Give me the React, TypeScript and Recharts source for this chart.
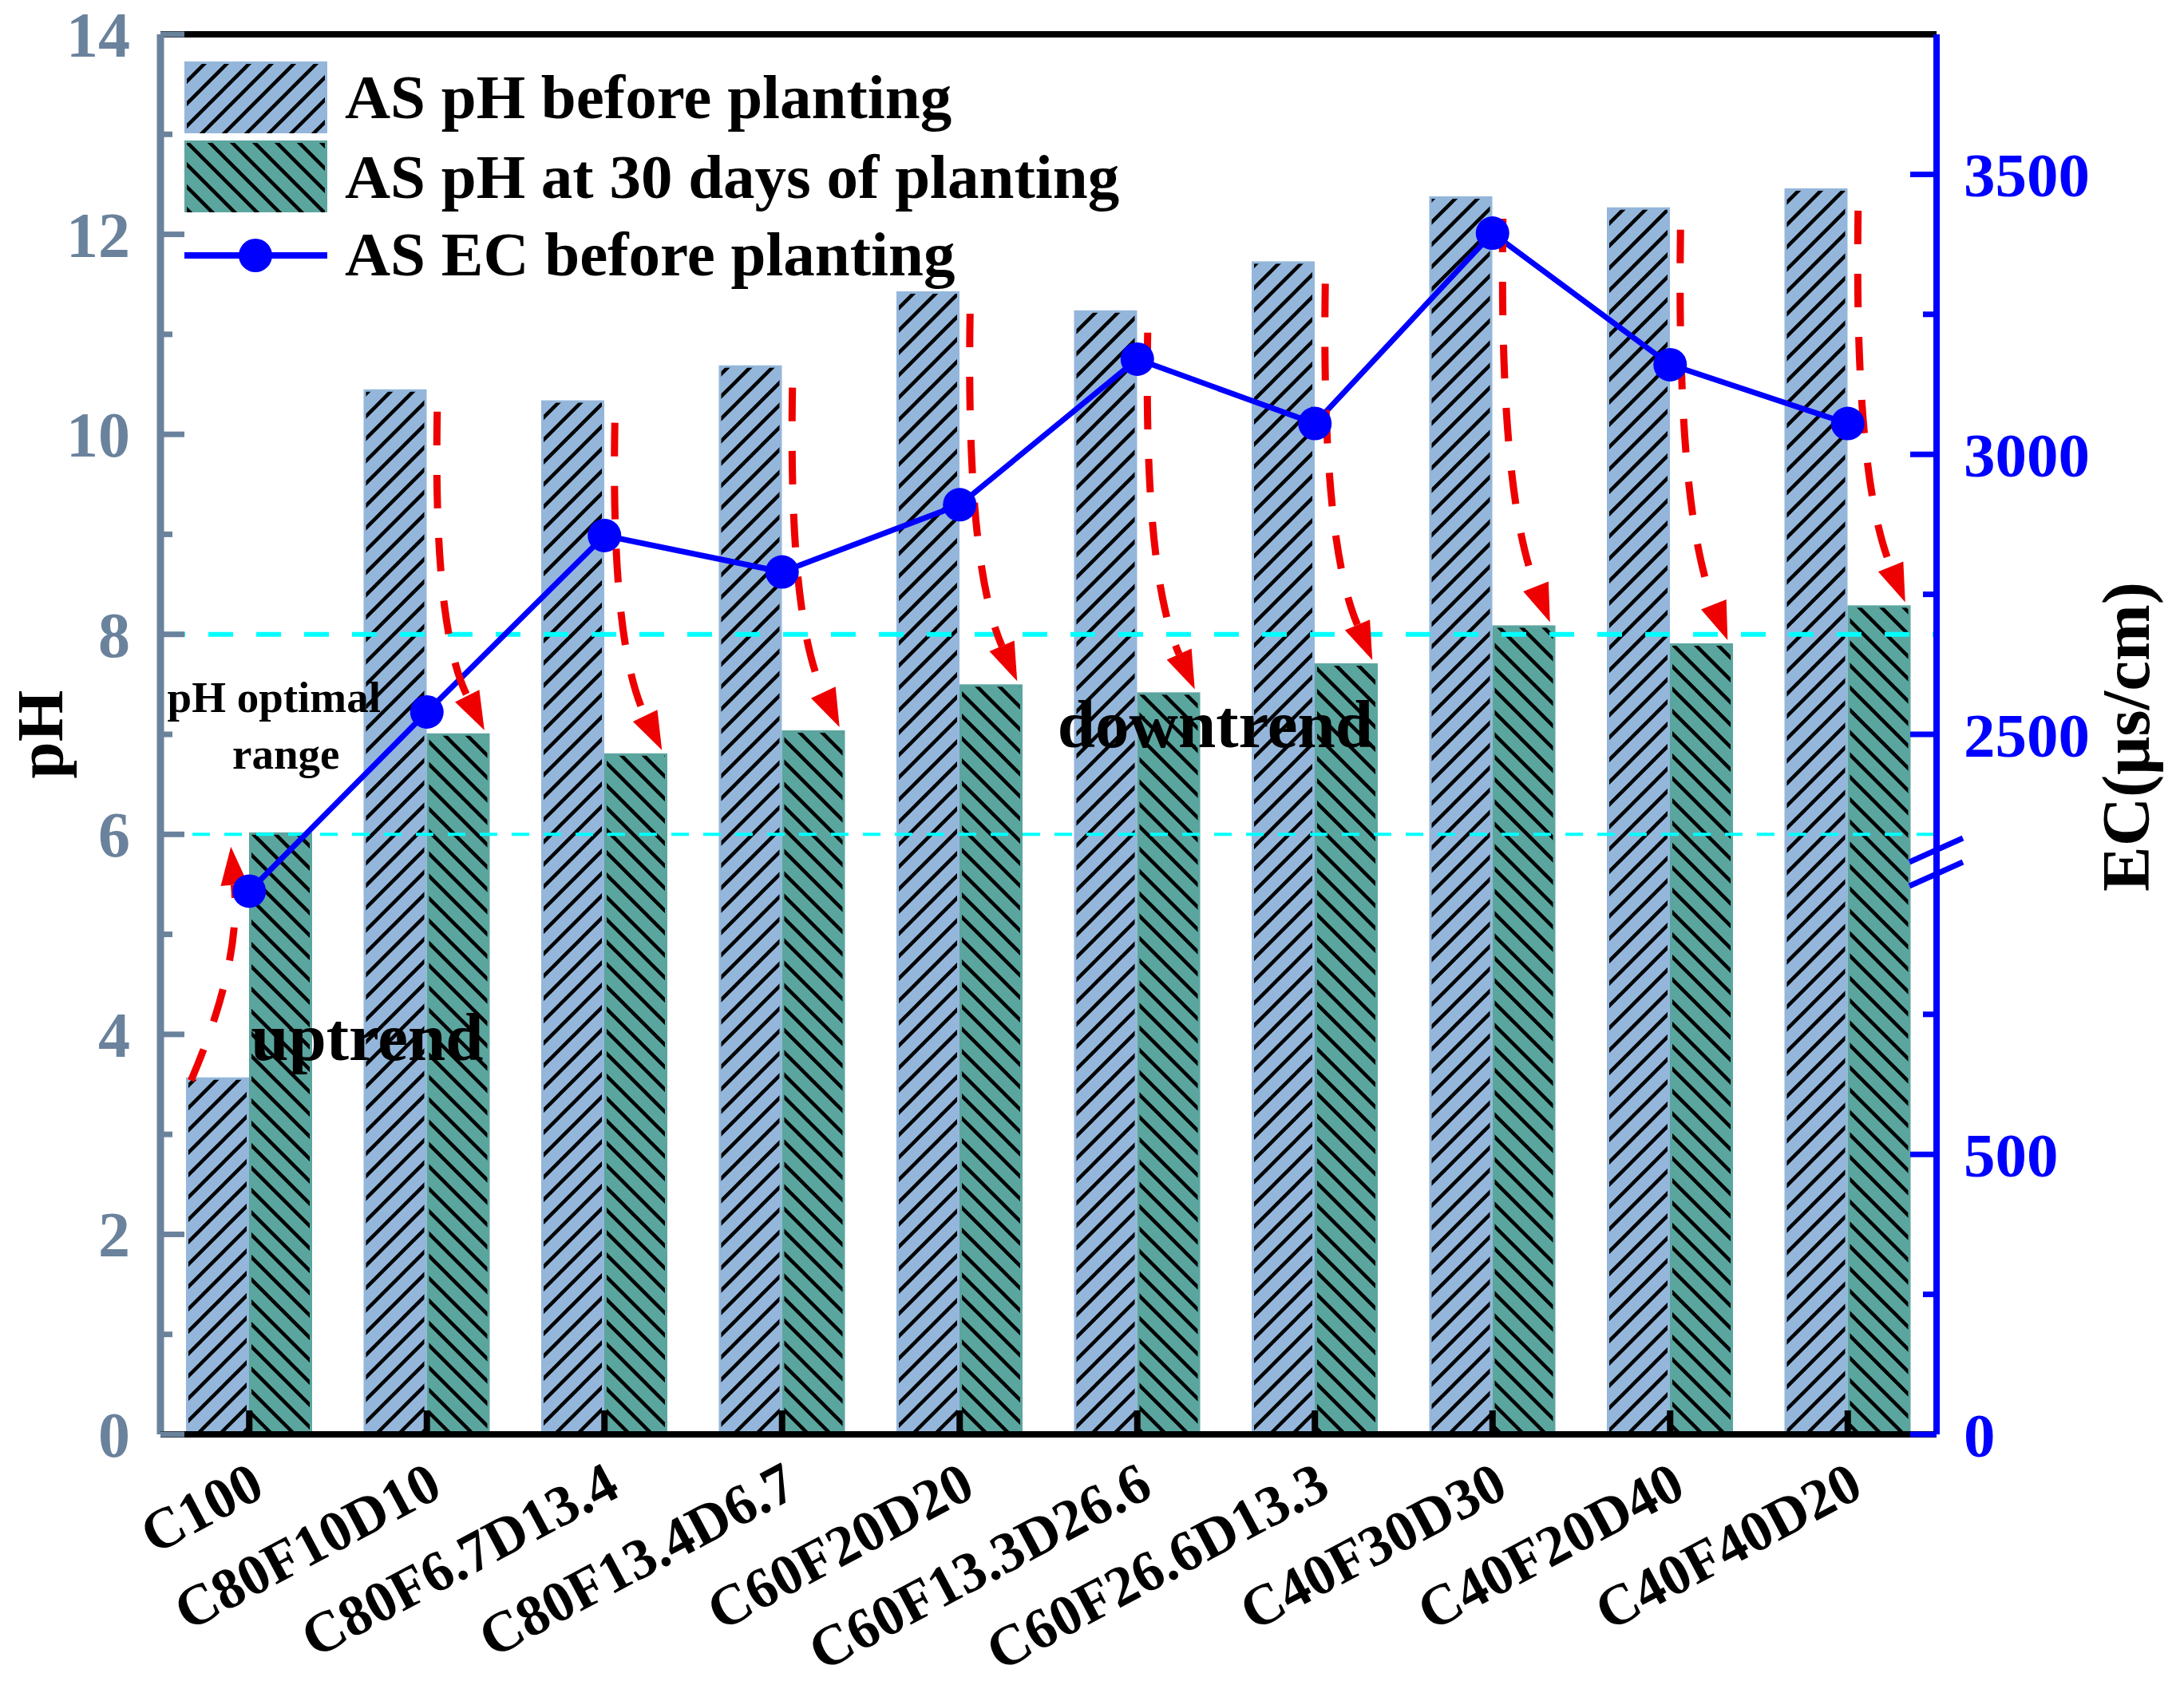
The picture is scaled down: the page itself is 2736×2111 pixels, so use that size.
import React from 'react';
import {
  ComposedChart, Bar, Line, XAxis, YAxis, ReferenceLine, ReferenceDot, Legend,
} from 'recharts';

const categories = [
  'C100', 'C80F10D10', 'C80F6.7D13.4', 'C80F13.4D6.7', 'C60F20D20',
  'C60F13.3D26.6', 'C60F26.6D13.3', 'C40F30D30', 'C40F20D40', 'C40F40D20',
];
const phBefore = [3.57, 10.45, 10.34, 10.69, 11.43, 11.24, 11.73, 12.38, 12.27, 12.46];
const ph30Days = [6.02, 7.01, 6.81, 7.04, 7.5, 7.42, 7.71, 8.09, 7.91, 8.29];
const ecBefore = [2220, 2540, 2855, 2790, 2910, 3170, 3055, 3395, 3160, 3055];

const phTicks = [0, 1, 2, 3, 4, 5, 6, 7, 8, 9, 10, 11, 12, 13, 14];
const ecTicks = [0, 250, 500, 750, 2500, 2750, 3000, 3250, 3500];

// the EC axis is broken: 0-1000 below, 2250-3750 above
const EC_GAP = 1250;
const EC_BREAK = 1022;
const toAxis = (v: number) => (v >= 2000 ? v - EC_GAP : v);
const fromAxis = (v: number) => (v > 1000 ? v + EC_GAP : v);

const data = categories.map((name, i) => ({
  name,
  before: phBefore[i],
  after: ph30Days[i],
  ec: toAxis(ecBefore[i]),
}));

const FONT = '"Liberation Serif", "Times New Roman", serif';
const BAR_BLUE = '#94b6db';
const BAR_GREEN = '#5ba59f';
const SLATE = '#6a829c';
const EC_BLUE = '#0000ff';
const RED = '#ee0000';
const CYAN = '#00ffff';

function Hatches({ prefix }: { prefix: string }) {
  return (
    <defs>
      <pattern id={`${prefix}Up`} patternUnits="userSpaceOnUse" width={28} height={28}>
        <path d="M0,28 L28,0 M-7,7 L7,-7 M21,35 L35,21" stroke="#000" strokeWidth={4.5} />
      </pattern>
      <pattern id={`${prefix}Down`} patternUnits="userSpaceOnUse" width={28} height={28}>
        <path d="M0,0 L28,28 M-7,21 L7,35 M21,-7 L35,7" stroke="#000" strokeWidth={4.5} />
      </pattern>
    </defs>
  );
}

function HatchBar(props: any) {
  const { x, y, width, height, fill, pattern } = props;
  if (!height || height <= 0) return null;
  return (
    <g>
      <rect x={x} y={y} width={width} height={height} fill={fill} />
      <rect x={x + 3} y={y + 3} width={width - 6} height={height - 3} fill={`url(#${pattern})`} />
    </g>
  );
}

// curved dashed arrow from the "before" bar top to the "30 days" bar top
function TrendArrow(props: any) {
  const { x1, y1, y2 } = props;
  if (x1 == null || y1 == null || y2 == null) return null;
  const up = y1 > y2;
  let sx, sy, qx, qy, ex, ey;
  if (up) {
    sx = x1 - 73; sy = y1 + 4; ex = x1 - 23; ey = y2 + 18;
    qx = x1 - 10; qy = sy - 0.5 * (sy - ey);
  } else {
    sx = x1 + 13; sy = y1 + 28; ex = x1 + 72; ey = y2 - 4;
    qx = x1 + 8; qy = sy + 0.68 * (ey - sy);
  }
  const ang = Math.atan2(ey - qy, ex - qx);
  const len = 48;
  const half = 17;
  const bx = ex - len * Math.cos(ang);
  const by = ey - len * Math.sin(ang);
  const px = -Math.sin(ang) * half;
  const py = Math.cos(ang) * half;
  return (
    <g>
      <path d={`M${sx},${sy} Q${qx},${qy} ${bx},${by}`} fill="none" stroke={RED} strokeWidth={9} strokeDasharray="42 37" />
      <polygon points={`${ex},${ey} ${bx + px},${by + py} ${bx - px},${by - py}`} fill={RED} />
    </g>
  );
}

function AxisBreak(props: any) {
  const { x1, x2, y1, y2 } = props;
  if (x1 == null || x2 == null || y2 == null) return null;
  const ax = Math.max(x1, x2);
  const y = (y1 + y2) / 2;
  return (
    <g>
      <line x1={ax} x2={ax} y1={y - 13} y2={y + 13} stroke="#fff" strokeWidth={14} />
      <line x1={ax - 34} y1={y} x2={ax + 33} y2={y - 30} stroke={EC_BLUE} strokeWidth={7} />
      <line x1={ax - 34} y1={y + 30} x2={ax + 33} y2={y} stroke={EC_BLUE} strokeWidth={7} />
    </g>
  );
}

function PhTick(props: any) {
  const { x, y, payload } = props;
  const v = payload.value;
  const major = v % 2 === 0;
  const ax = x + 38;
  return (
    <g>
      <line x1={ax} x2={ax + (major ? 30 : 15)} y1={y} y2={y} stroke={SLATE} strokeWidth={7} />
      {major && (
        <text x={x} y={y} dy="0.35em" textAnchor="end" fontFamily={FONT} fontWeight="bold" fontSize={80} fill={SLATE}>
          {v}
        </text>
      )}
    </g>
  );
}

function EcTick(props: any) {
  const { x, y, payload } = props;
  const real = fromAxis(payload.value);
  const major = real % 500 === 0;
  const ax = x - 34;
  return (
    <g>
      <line x1={ax} x2={ax - (major ? 33 : 17)} y1={y} y2={y} stroke={EC_BLUE} strokeWidth={7} />
      {major && (
        <text x={x} y={y} dy="0.35em" textAnchor="start" fontFamily={FONT} fontWeight="bold" fontSize={79} fill={EC_BLUE}>
          {real}
        </text>
      )}
    </g>
  );
}

function CategoryTick(props: any) {
  const { x, y, payload } = props;
  const tx = x + 22;
  const ty = y + 76;
  return (
    <g>
      <line x1={x} x2={x} y1={y} y2={y - 30} stroke="#000" strokeWidth={8} />
      <text x={tx} y={ty} transform={`rotate(-28 ${tx} ${ty})`} textAnchor="end" fontFamily={FONT} fontWeight="bold" fontSize={72} fill="#000">
        {payload.value}
      </text>
    </g>
  );
}

function LegendBox() {
  const txt = { fontFamily: FONT, fontWeight: 'bold' as const, fontSize: 79, fill: '#000' };
  return (
    <svg width={1450} height={380} style={{ display: 'block' }}>
      <Hatches prefix="lg" />
      <rect x={231} y={77} width={179} height={90} fill={BAR_BLUE} />
      <rect x={234} y={80} width={173} height={87} fill="url(#lgUp)" />
      <rect x={231} y={176} width={179} height={90} fill={BAR_GREEN} />
      <rect x={234} y={179} width={173} height={87} fill="url(#lgDown)" />
      <line x1={231} x2={410} y1={320} y2={320} stroke={EC_BLUE} strokeWidth={8} />
      <circle cx={320} cy={320} r={21} fill={EC_BLUE} />
      <text x={432} y={148} {...txt}>AS pH before planting</text>
      <text x={432} y={248} {...txt}>AS pH at 30 days of planting</text>
      <text x={432} y={345} {...txt}>AS EC before planting</text>
    </svg>
  );
}

const noteStyle = { fontFamily: FONT, fontWeight: 'bold' as const, fill: '#000' };

export default function App() {
  return (
    <div style={{ position: 'absolute', left: 0, top: 0, background: '#fff' }}>
      <ComposedChart
        width={2736}
        height={2111}
        data={data}
        margin={{ top: 43, right: 0, bottom: 64, left: 0 }}
        barGap={0}
      >
        <Hatches prefix="hb" />
        <YAxis
          yAxisId="left"
          orientation="left"
          width={201}
          domain={[0, 14]}
          ticks={phTicks}
          interval={0}
          tickSize={0}
          tickMargin={38}
          tick={<PhTick />}
          axisLine={{ stroke: SLATE, strokeWidth: 9 }}
          tickLine={false}
          label={{
            content: (p: any) => {
              const vb = p.viewBox || { x: 0, y: 43, width: 201, height: 1754 };
              const cx = vb.x + 78;
              const cy = vb.y + vb.height / 2;
              return (
                <text x={cx} y={cy} transform={`rotate(-90 ${cx} ${cy})`} textAnchor="middle" fontFamily={FONT} fontWeight="bold" fontSize={83} fill="#000">
                  pH
                </text>
              );
            },
          }}
        />
        <YAxis
          yAxisId="right"
          orientation="right"
          width={310}
          domain={[0, 2500]}
          ticks={ecTicks.map(toAxis)}
          interval={0}
          tickSize={0}
          tickMargin={34}
          tick={<EcTick />}
          axisLine={{ stroke: EC_BLUE, strokeWidth: 8 }}
          tickLine={false}
          label={{
            content: (p: any) => {
              const vb = p.viewBox || { x: 2426, y: 43, width: 310, height: 1754 };
              const cx = vb.x + 266;
              const cy = vb.y + vb.height / 2 + 3;
              return (
                <text x={cx} y={cy} transform={`rotate(-90 ${cx} ${cy})`} textAnchor="middle" fontFamily={FONT} fontWeight="bold" fontSize={85} fill="#000">
                  EC(μs/cm)
                </text>
              );
            },
          }}
        />
        <Bar
          yAxisId="left"
          dataKey="before"
          name="AS pH before planting"
          fill={BAR_BLUE}
          barSize={79}
          isAnimationActive={false}
          shape={(p: any) => <HatchBar {...p} pattern="hbUp" />}
        />
        <Bar
          yAxisId="left"
          dataKey="after"
          name="AS pH at 30 days of planting"
          fill={BAR_GREEN}
          barSize={79}
          isAnimationActive={false}
          shape={(p: any) => <HatchBar {...p} pattern="hbDown" />}
        />
        <XAxis
          dataKey="name"
          height={250}
          interval={0}
          tickSize={0}
          tickMargin={0}
          tick={<CategoryTick />}
          tickLine={false}
          axisLine={{ stroke: '#000', strokeWidth: 8 }}
        />
        <ReferenceLine yAxisId="left" y={14} stroke="#000" strokeWidth={8} />
        <ReferenceLine yAxisId="left" y={8} stroke={CYAN} strokeWidth={6} strokeDasharray="31 29" />
        <ReferenceLine yAxisId="left" y={6} stroke={CYAN} strokeWidth={4} strokeDasharray="22 18" />
        <Line
          yAxisId="right"
          dataKey="ec"
          name="AS EC before planting"
          stroke={EC_BLUE}
          strokeWidth={7}
          dot={{ r: 21, fill: EC_BLUE, stroke: 'none', strokeWidth: 0 }}
          activeDot={false}
          isAnimationActive={false}
        />
        {categories.map((c, i) => (
          <ReferenceLine
            key={c}
            yAxisId="left"
            segment={[{ x: c, y: phBefore[i] }, { x: c, y: ph30Days[i] }]}
            shape={(p: any) => <TrendArrow {...p} />}
          />
        ))}
        <ReferenceLine yAxisId="right" y={EC_BREAK} stroke="none" shape={(p: any) => <AxisBreak {...p} />} />
        <ReferenceDot
          yAxisId="left" x="C100" y={7.22} r={0}
          shape={(p: any) => <text x={p.cx + 31} y={p.cy} textAnchor="middle" fontSize={55} {...noteStyle}>pH optimal</text>}
        />
        <ReferenceDot
          yAxisId="left" x="C100" y={6.66} r={0}
          shape={(p: any) => <text x={p.cx + 46} y={p.cy} textAnchor="middle" fontSize={55} {...noteStyle}>range</text>}
        />
        <ReferenceDot
          yAxisId="left" x="C100" y={3.74} r={0}
          shape={(p: any) => <text x={p.cx + 2} y={p.cy} textAnchor="start" fontSize={85} {...noteStyle}>uptrend</text>}
        />
        <ReferenceDot
          yAxisId="left" x="C60F13.3D26.6" y={6.87} r={0}
          shape={(p: any) => <text x={p.cx - 100} y={p.cy} textAnchor="start" fontSize={85} {...noteStyle}>downtrend</text>}
        />
        <Legend
          layout="horizontal"
          verticalAlign="middle"
          align="center"
          wrapperStyle={{ left: 0, top: 0, width: 1450, height: 380 }}
          content={() => <LegendBox />}
        />
      </ComposedChart>
    </div>
  );
}
